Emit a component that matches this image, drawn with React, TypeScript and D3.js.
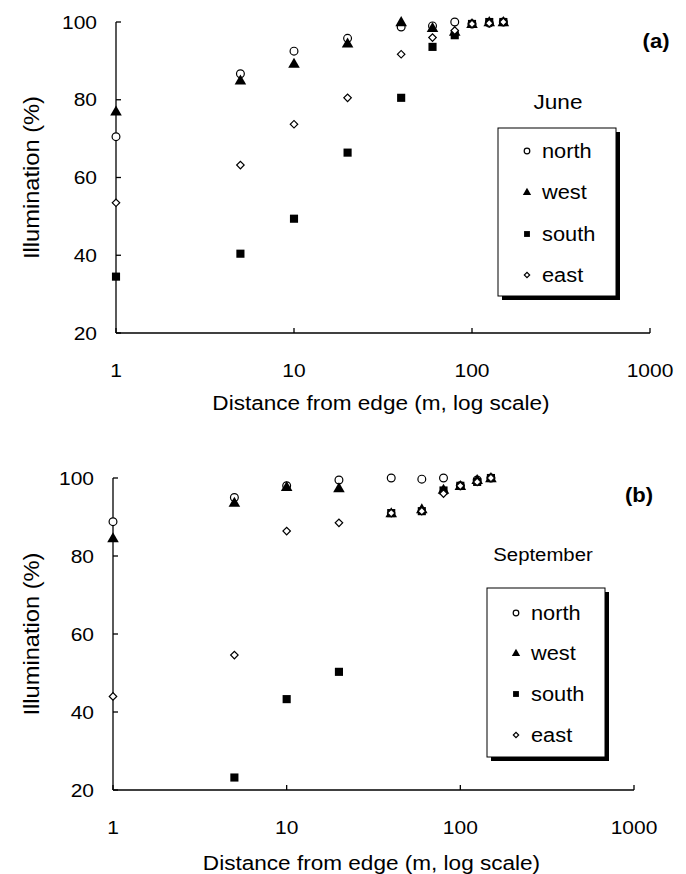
import React from "react";
import * as d3 from "d3";

const distances = [1, 5, 10, 20, 40, 60, 80, 100, 125, 150];
const seriesNames = ["north", "west", "south", "east"];

const juneNorth = [70.5, 86.7, 92.5, 95.8, 98.7, 99, 100, 99.5, 99.7, 100];
const juneWest = [77, 85, 89.3, 94.5, 100, 98.5, 97.5, 99.5, 100, 100];
const juneSouth = [34.5, 40.4, 49.4, 66.4, 80.5, 93.6, 96.6, 99.5, 100, 100];
const juneEast = [53.5, 63.2, 73.7, 80.5, 91.7, 96, 97.8, 99.5, 99.7, 100];

const sepNorth = [88.8, 95, 98, 99.5, 100, 99.7, 100, 98, 99.5, 100];
const sepWest = [84.6, 93.7, 97.7, 97.4, 91, 92, 97, 98, 99.5, 100];
const sepSouth: (number | null)[] = [null, 23.2, 43.3, 50.3, 91, 91.5, 96.8, 98, 99, 100];
const sepEast = [44, 54.6, 86.4, 88.5, 91, 91.5, 96, 98, 99, 100];

const yTicks = [20, 40, 60, 80, 100];
const xTicks = [1, 10, 100, 1000];

const FONT = "'Liberation Sans', Arial, sans-serif";
const SX = 1.13;

function T({
  x,
  y,
  size,
  anchor = "start",
  rotate = 0,
  bold = false,
  sx = SX,
  children,
}: {
  x: number;
  y: number;
  size: number;
  anchor?: string;
  rotate?: number;
  bold?: boolean;
  sx?: number;
  children: React.ReactNode;
}) {
  return (
    <g transform={`translate(${x},${y}) rotate(${rotate}) scale(${sx},1)`}>
      <text
        x={0}
        y={0}
        dy="0.35em"
        textAnchor={anchor as any}
        fontSize={size}
        fontWeight={bold ? "bold" : "normal"}
        fontFamily={FONT}
        fill="black"
      >
        {children}
      </text>
    </g>
  );
}

function Marker({ kind, x, y, s = 1 }: { kind: string; x: number; y: number; s?: number }) {
  if (kind === "north")
    return <circle cx={x} cy={y} r={3.9 * s} fill="white" stroke="black" strokeWidth={1.2} />;
  if (kind === "west") {
    const p = d3.symbol().type(d3.symbolTriangle).size(58 * s * s)();
    return <path d={p as string} transform={`translate(${x},${y + 0.8 * s})`} fill="black" />;
  }
  if (kind === "south") {
    const p = d3.symbol().type(d3.symbolSquare).size(66 * s * s)();
    return <path d={p as string} transform={`translate(${x},${y})`} fill="black" />;
  }
  const p = d3.symbol().type(d3.symbolSquare).size(28 * s * s)();
  return (
    <path
      d={p as string}
      transform={`translate(${x},${y}) rotate(45)`}
      fill="white"
      stroke="black"
      strokeWidth={1.2}
    />
  );
}

type PanelProps = {
  series: (number | null)[][];
  left: number;
  right: number;
  top: number;
  bottom: number;
  month: string;
  monthX: number;
  monthY: number;
  monthSize: number;
  tag: string;
  tagX: number;
  tagY: number;
  titleY: number;
  legX: number;
  legY: number;
  legW: number;
  legH: number;
  legItemY: number[];
};

function Panel(p: PanelProps) {
  const x = d3.scaleLog().domain([1, 1000]).range([p.left, p.right]);
  const y = d3.scaleLinear().domain([20, 100]).range([p.bottom, p.top]);
  const midY = (p.top + p.bottom) / 2;
  return (
    <g>
      {/* axes */}
      <line x1={p.left} x2={p.left} y1={p.top} y2={p.bottom} stroke="black" strokeWidth={1.3} />
      <line x1={p.left} x2={p.right} y1={p.bottom} y2={p.bottom} stroke="black" strokeWidth={1.3} />
      {yTicks.map((t) => (
        <g key={"y" + t}>
          <line x1={p.left} x2={p.left + 5} y1={y(t)} y2={y(t)} stroke="black" strokeWidth={1.3} />
          <T x={p.left - 19} y={y(t)} size={18.6} anchor="end">
            {t}
          </T>
        </g>
      ))}
      {xTicks.map((t) => (
        <g key={"x" + t}>
          <line x1={x(t)} x2={x(t)} y1={p.bottom} y2={p.bottom - 5} stroke="black" strokeWidth={1.3} />
          <T x={x(t)} y={p.bottom + 37} size={18.6} anchor="middle">
            {t}
          </T>
        </g>
      ))}
      <T x={(p.left + p.right) / 2 - 2} y={p.titleY} size={19.8} anchor="middle" sx={1.14}>
        Distance from edge (m, log scale)
      </T>
      <T x={31.5} y={midY} size={21.5} anchor="middle" rotate={-90} sx={1.1}>
        Illumination (%)
      </T>
      {/* points */}
      {p.series.map((vals, si) =>
        vals.map((v, i) =>
          v == null ? null : (
            <Marker key={si + "-" + i} kind={seriesNames[si]} x={x(distances[i])} y={y(v)} />
          )
        )
      )}
      {/* labels */}
      <T x={p.tagX} y={p.tagY} size={19.5} anchor="middle" bold>
        {p.tag}
      </T>
      <T x={p.monthX} y={p.monthY} size={p.monthSize} anchor="middle">
        {p.month}
      </T>
      {/* legend */}
      <rect x={p.legX + 4} y={p.legY + 4} width={p.legW} height={p.legH} fill="black" />
      <rect x={p.legX} y={p.legY} width={p.legW} height={p.legH} fill="white" stroke="black" strokeWidth={1} />
      {seriesNames.map((n, i) => (
        <g key={n}>
          <Marker kind={n} x={p.legX + 29} y={p.legItemY[i]} s={0.72} />
          <T x={p.legX + 44} y={p.legItemY[i]} size={19.3}>
            {n}
          </T>
        </g>
      ))}
    </g>
  );
}

export default function App() {
  return (
    <svg
      width={686}
      height={874}
      style={{ position: "absolute", left: 0, top: 0, background: "white" }}
    >
      <rect width={686} height={874} fill="white" />
      <Panel
        series={[juneNorth, juneWest, juneSouth, juneEast]}
        left={116}
        right={650}
        top={22}
        bottom={333}
        month="June"
        monthX={558}
        monthY={102}
        monthSize={20}
        tag="(a)"
        tagX={656}
        tagY={41}
        titleY={403}
        legX={498}
        legY={128}
        legW={118}
        legH={168}
        legItemY={[151, 192, 234, 275]}
      />
      <Panel
        series={[sepNorth, sepWest, sepSouth, sepEast]}
        left={113}
        right={634}
        top={478}
        bottom={790}
        month="September"
        monthX={543}
        monthY={555}
        monthSize={18}
        tag="(b)"
        tagX={639}
        tagY={495}
        titleY={863}
        legX={487}
        legY={588}
        legW={118}
        legH={169}
        legItemY={[613, 653, 694, 735]}
      />
    </svg>
  );
}
